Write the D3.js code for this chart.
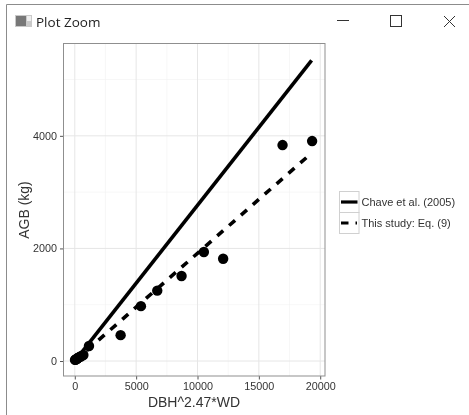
<!DOCTYPE html>
<html>
<head>
<meta charset="utf-8">
<script src="https://cdn.jsdelivr.net/npm/d3@7"></script>
<style>
  html, body { margin: 0; padding: 0; background: #fff; }
  svg { display: block; filter: blur(0.35px); }
  text { font-family: "Liberation Sans", Arial, sans-serif; }
</style>
</head>
<body>
<svg id="chart"></svg>
<script>
let w = 469;
let h = 415;

let pointX = [20, 60, 100, 150, 200, 260, 330, 420, 520, 700, 1156, 3735, 5390, 6720, 8700, 10520, 12090, 16930, 19340];
let pointY = [20, 25, 30, 35, 45, 55, 65, 75, 85, 107, 266, 460, 975, 1250, 1510, 1936, 1817, 3836, 3907];

let lineNames = ["Chave et al. (2005)", "This study: Eq. (9)"];
let chaveX = [0, 19300];
let chaveY = [0, 5340];
let studyX = [0, 19300];
let studyY = [0, 3694];

let xTicks = [0, 5000, 10000, 15000, 20000];
let xMinor = [2500, 7500, 12500, 17500];
let yTicks = [0, 2000, 4000];
let yMinor = [1000, 3000, 5000];

let panel = { left: 63.5, right: 325, top: 43.5, bottom: 376 };

let svg = d3.select("#chart").attr("width", w).attr("height", h);

let scalex = d3.scaleLinear().domain([-920, 20390]).range([panel.left, panel.right]);
let scaley = d3.scaleLinear().domain([-266, 5640]).range([panel.bottom, panel.top]);

// window frame
svg.append("path")
   .attr("d", "M6.5,415V4.5H469")
   .attr("fill", "none")
   .attr("stroke", "#8c8c8c")
   .attr("stroke-width", 1);

let icon = svg.append("g").attr("transform", "translate(15,15)");
icon.append("rect").attr("width", 17).attr("height", 12).attr("fill", "#c9c9c9");
icon.append("rect").attr("x", 1).attr("y", 1).attr("width", 10).attr("height", 10).attr("fill", "#777");
icon.append("rect").attr("x", 12).attr("y", 1).attr("width", 4).attr("height", 5).attr("fill", "#eee");

svg.append("text")
   .attr("x", 36).attr("y", 26.5)
   .attr("font-size", 13.5)
   .attr("fill", "#222")
   .style("font-family", "'Open Sans', 'Noto Sans', sans-serif")
   .text("Plot Zoom");

// window buttons
svg.append("path").attr("d", "M337,20.5H349").attr("stroke", "#333").attr("fill", "none");
svg.append("rect").attr("x", 390.5).attr("y", 15.5).attr("width", 11).attr("height", 11)
   .attr("stroke", "#333").attr("fill", "none");
svg.append("path").attr("d", "M444,16L455,27M455,16L444,27").attr("stroke", "#333").attr("fill", "none");

// grid
let grid = svg.append("g");
grid.selectAll(".minorx").data(xMinor).enter().append("line")
    .attr("x1", (d) => scalex(d)).attr("x2", (d) => scalex(d))
    .attr("y1", panel.top).attr("y2", panel.bottom)
    .attr("stroke", "#f2f2f2").attr("stroke-width", 0.6);
grid.selectAll(".minory").data(yMinor).enter().append("line")
    .attr("y1", (d) => scaley(d)).attr("y2", (d) => scaley(d))
    .attr("x1", panel.left).attr("x2", panel.right)
    .attr("stroke", "#f2f2f2").attr("stroke-width", 0.6);
grid.selectAll(".majorx").data(xTicks).enter().append("line")
    .attr("x1", (d) => scalex(d)).attr("x2", (d) => scalex(d))
    .attr("y1", panel.top).attr("y2", panel.bottom)
    .attr("stroke", "#e6e6e6").attr("stroke-width", 1);
grid.selectAll(".majory").data(yTicks).enter().append("line")
    .attr("y1", (d) => scaley(d)).attr("y2", (d) => scaley(d))
    .attr("x1", panel.left).attr("x2", panel.right)
    .attr("stroke", "#e6e6e6").attr("stroke-width", 1);

// axes
let xAxis = svg.append("g")
    .attr("transform", "translate(0," + panel.bottom + ")")
    .call(d3.axisBottom(scalex).tickValues(xTicks).tickFormat(d3.format("d")).tickSize(3.5).tickPadding(3));
let yAxis = svg.append("g")
    .attr("transform", "translate(" + panel.left + ",0)")
    .call(d3.axisLeft(scaley).tickValues(yTicks).tickFormat(d3.format("d")).tickSize(3.5).tickPadding(3));
[xAxis, yAxis].forEach((a) => {
  a.select(".domain").remove();
  a.selectAll("line").attr("stroke", "#555");
  a.selectAll("text").attr("font-size", 10.8).attr("fill", "#333")
   .style("font-family", "'Liberation Sans', Arial, sans-serif");
});

// data
let line = d3.line().x((d) => scalex(d[0])).y((d) => scaley(d[1]));

svg.append("path")
   .datum(d3.zip(chaveX, chaveY))
   .attr("d", line)
   .attr("fill", "none").attr("stroke", "#000").attr("stroke-width", 3.6);
svg.append("path")
   .datum(d3.zip(studyX, studyY))
   .attr("d", line)
   .attr("fill", "none").attr("stroke", "#000").attr("stroke-width", 3.6)
   .attr("stroke-dasharray", "7.9,7.9");

svg.selectAll(".pt").data(d3.zip(pointX, pointY)).enter().append("circle")
   .attr("class", "pt")
   .attr("cx", (d) => scalex(d[0]))
   .attr("cy", (d) => scaley(d[1]))
   .attr("r", 5.2)
   .attr("fill", "#000");

// panel border
svg.append("rect")
   .attr("x", panel.left).attr("y", panel.top)
   .attr("width", panel.right - panel.left).attr("height", panel.bottom - panel.top)
   .attr("fill", "none").attr("stroke", "#8f8f8f").attr("stroke-width", 1);

// axis titles
svg.append("text")
   .attr("x", 194).attr("y", 407)
   .attr("text-anchor", "middle").attr("font-size", 14).attr("fill", "#333")
   .text("DBH^2.47*WD");
svg.append("text")
   .attr("transform", "translate(29,210) rotate(-90)")
   .attr("text-anchor", "middle").attr("font-size", 14).attr("fill", "#333")
   .text("AGB (kg)");

// legend
let legend = svg.append("g").attr("transform", "translate(339.5,191.5)");
legend.selectAll("rect").data(lineNames).enter().append("rect")
      .attr("x", 0).attr("y", (d, i) => i * 21)
      .attr("width", 19.5).attr("height", 21)
      .attr("fill", "#fff").attr("stroke", "#d0d0d0").attr("stroke-width", 1);
legend.selectAll("line").data(lineNames).enter().append("line")
      .attr("x1", 1.5).attr("x2", 18)
      .attr("y1", (d, i) => 10.5 + i * 21).attr("y2", (d, i) => 10.5 + i * 21)
      .attr("stroke", "#000").attr("stroke-width", 3.2)
      .attr("stroke-dasharray", (d, i) => i ? "7.5,7,1.5,9" : null);
legend.selectAll("text").data(lineNames).enter().append("text")
      .attr("x", 22).attr("y", (d, i) => 14.5 + i * 21)
      .attr("font-size", 11).attr("fill", "#333")
      .text((d) => d);
</script>
</body>
</html>
